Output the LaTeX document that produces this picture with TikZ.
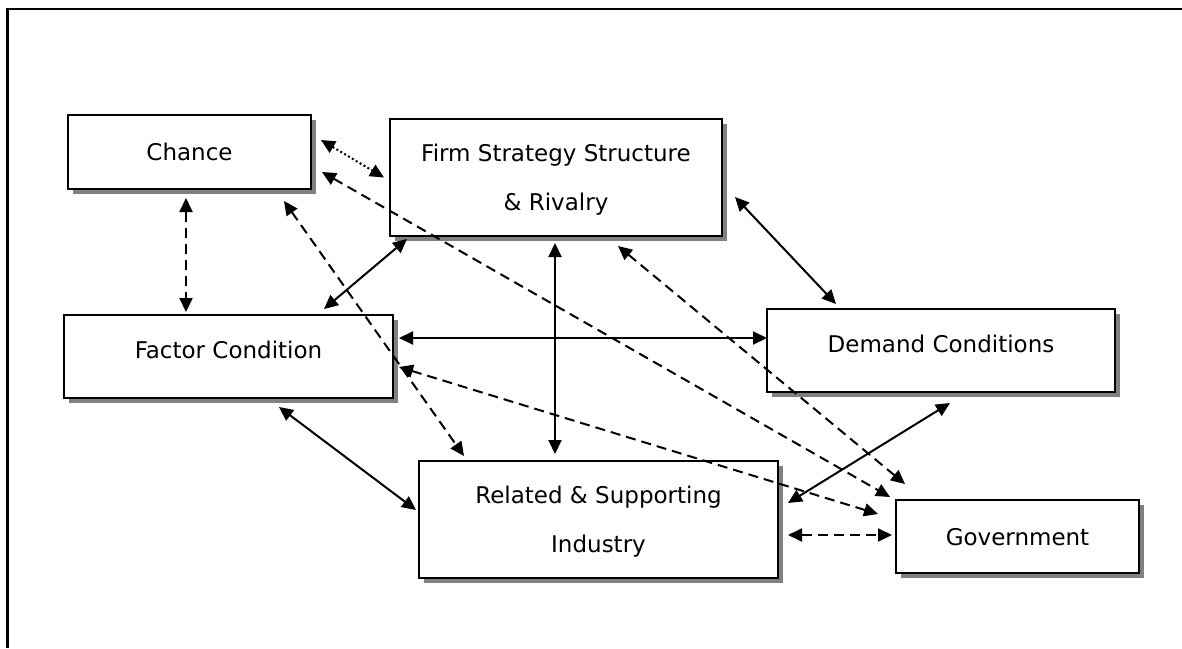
\documentclass[tikz,border=0pt]{standalone}
\usepackage{fontspec}
\setmainfont{DejaVu Sans}
\usetikzlibrary{arrows.meta,shadows}

\tikzset{
  box/.style={draw, line width=2pt, fill=white, inner sep=0pt, align=center,
    text depth=0pt, font=\fontsize{23pt}{49pt}\selectfont,
    drop shadow={shadow xshift=5pt, shadow yshift=-5pt, fill=black!50, opacity=1}},
  link/.style={<->, line width=2pt},
  dashlink/.style={link, dash pattern=on 10pt off 6pt},
  dotlink/.style={link, dash pattern=on 2pt off 2.5pt}
}

\begin{document}
\begin{tikzpicture}[x=1pt, y=-1pt, >={Triangle[length=14pt,width=13pt]}]
        \useasboundingbox (0,0) rectangle (1182,648);

        % Frame
        \draw[line width=2.4pt] (1182,9) -- (7.5,9) -- (7.5,648);

        % Boxes
        \node[box, minimum width=243pt, minimum height=74pt] (chance) at (189.5,152) {Chance};
        \node[box, minimum width=332pt, minimum height=117pt] (firm) at (556,177.5) {Firm Strategy Structure\\\& Rivalry};
        \node[box, minimum width=329pt, minimum height=83pt, text depth=13pt] (factor) at (228.5,356.5) {Factor Condition};
        \node[box, minimum width=348pt, minimum height=83pt, text depth=13pt] (demand) at (941,350.5) {Demand Conditions};
        \node[box, minimum width=359pt, minimum height=117pt] (related) at (598.5,519.5) {Related \& Supporting\\Industry};
        \node[box, minimum width=243pt, minimum height=73pt] (gov) at (1017.5,536.5) {Government};

        % Links
        \draw[dotlink] ([shift={(9,-12)}]chance.east) -- ([shift={(-5,0)}]firm.west);
        \draw[dashlink] ([shift={(10,20)}]chance.east) -- ([shift={(-5,-2)}]gov.north west);
        \draw[dashlink] ([shift={(-28,11)}]chance.south east) -- ([shift={(46,-4)}]related.north west);
        \draw[dashlink] ([shift={(-3.5,8)}]chance.south) -- ([shift={(-42.5,-2)}]factor.north);
        \draw[link] ([shift={(18,2)}]firm.south west) -- ([shift={(-70,-5)}]factor.north east);
        \draw[link] ([shift={(-1,6)}]firm.south) -- ([shift={(-43.5,-6)}]related.north);
        \draw[link] ([shift={(5,-18.5)}]factor.east) -- ([shift={(1,-12.5)}]demand.west);
        \draw[dashlink] ([shift={(5,10.5)}]factor.east) -- ([shift={(-17,15)}]gov.north west);
        \draw[link] ([shift={(12,19.5)}]firm.east) -- ([shift={(70,-4)}]demand.north west);
        \draw[dashlink] ([shift={(62,9)}]firm.south) -- ([shift={(10,-15)}]gov.north west);
        \draw[link] ([shift={(9,-16.5)}]related.east) -- ([shift={(9,10)}]demand.south);
        \draw[dashlink] ([shift={(9,15.5)}]related.east) -- ([shift={(-3,-1.5)}]gov.west);
        \draw[link] ([shift={(50.5,8)}]factor.south) -- ([shift={(-2,-9.5)}]related.west);
    \end{tikzpicture}
\end{document}
